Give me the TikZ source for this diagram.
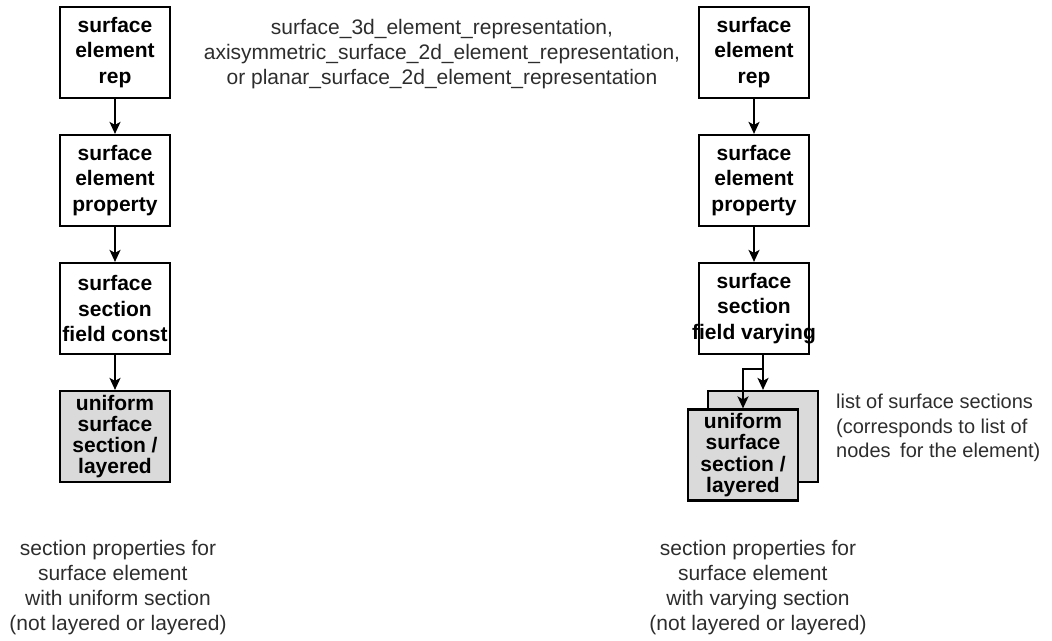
\documentclass[tikz,border=0pt]{standalone}
\usepackage{fontspec}
\setmainfont{Liberation Sans}
\usetikzlibrary{arrows.meta,calc}
\definecolor{boxgray}{RGB}{218,218,218}
\definecolor{notegray}{RGB}{45,45,45}
\begin{document}
\begin{tikzpicture}[x=1pt,y=-1pt,
  entity/.style={draw, line width=2.2pt, rectangle, minimum width=110pt,
    minimum height=91pt, inner sep=2pt, align=center,
    font=\fontsize{21}{25.5}\selectfont\bfseries},
  shaded/.style={entity, fill=boxgray, font=\fontsize{21}{21.2}\selectfont\bfseries},
  note/.style={align=center, text=notegray, inner sep=0pt,
    font=\fontsize{21}{25}\selectfont},
  arr/.style={line width=2pt, -{Stealth[length=12pt,width=11pt,inset=3pt]}}]
  \useasboundingbox (0,0) rectangle (1052,640);

  % uniform section column
  \node[entity] (L1) at (115,52.5) {surface\\element\\rep};
  \node[entity] (L2) at (115,180.5) {surface\\element\\property};
  \node[entity] (L3) at (115,308.5) {surface\\section\\\makebox[100pt]{field const}};
  \node[shaded] (L4) at (115,436.5) {uniform\\surface\\section /\\layered};

  % varying section column
  \node[entity] (R1) at (754,52.5) {surface\\element\\rep};
  \node[entity] (R2) at (754,180.5) {surface\\element\\property};
  \node[entity] (R3) at (754,308.5) {surface\\section\\\makebox[100pt]{field varying}};
  \node[shaded] (back) at (763,436.5) {};
  \node[shaded] (front) at (743,455) {uniform\\surface\\section /\\layered};

  % connectors
  \draw[arr] (L1) -- (L2);
  \draw[arr] (L2) -- (L3);
  \draw[arr] (L3) -- (L4);
  \draw[arr] (R1) -- (R2);
  \draw[arr] (R2) -- (R3);
  \coordinate (split) at ($(R3.south -| back.north)+(0,14)$);
  \draw[arr] (R3.south -| back.north) -- (back.north);
  \draw[arr] (split) -| (front.north);

  % annotations
  \node[note] (types) at (442,54)
    {surface\_3d\_element\_representation,\\
     axisymmetric\_surface\_2d\_element\_representation,\\
     or planar\_surface\_2d\_element\_representation};
  \node[note, align=left, anchor=west, font=\fontsize{20}{24.5}\selectfont] (listnote) at (836,428)
    {list of surface sections\\(corresponds to list of\\nodes\hspace{0.2em} for the element)};
  \node[note] (leftnote) at (118,588)
    {section properties for\\surface element\kern0.5em\\with uniform section\\(not layered or layered)};
  \node[note] (rightnote) at (758,588)
    {section properties for\\surface element\kern0.5em\\with varying section\\(not layered or layered)};
\end{tikzpicture}
\end{document}
